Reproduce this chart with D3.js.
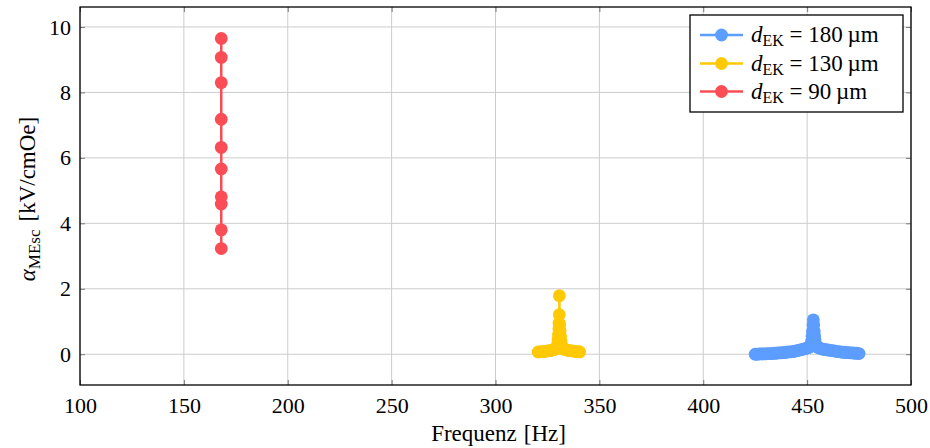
<!DOCTYPE html>
<html><head><meta charset="utf-8">
<script src="https://cdn.jsdelivr.net/npm/d3@7"></script>
<style>body{margin:0;background:#fff}svg{display:block}text{font-family:"Liberation Serif","DejaVu Serif",serif;fill:#000}</style>
</head><body><div id="chart"></div>
<script>
const xTicks=[100,150,200,250,300,350,400,450,500];
const yTicks=[0,2,4,6,8,10];
const seriesNames=["180","130","90"];
const seriesColors=["#5c9dff","#ffc905","#fa4d56"];
// d_EK = 180 µm
const blueFreq=[425,426,427,428,429,430,431,432,433,434,435,436,437,438,439,440,441,442,443,444,445,446,447,448,449,450,450.5,451,451.5,451.8,452,452.2,452.4,452.6,452.8,453,453.2,453.4,453.6,453.8,454,454.2,454.5,455,455.5,456,457,458,459,460,461,462,463,464,465,466,467,468,469,470,471,472,473,474,475];
const blueVal=[0.00,0.00,0.01,0.01,0.01,0.01,0.02,0.02,0.02,0.03,0.03,0.04,0.04,0.05,0.05,0.06,0.07,0.07,0.08,0.09,0.11,0.12,0.14,0.15,0.17,0.19,0.20,0.22,0.24,0.27,0.32,0.42,0.55,0.70,0.90,1.05,0.90,0.70,0.55,0.42,0.32,0.27,0.24,0.22,0.20,0.19,0.16,0.15,0.14,0.13,0.12,0.11,0.10,0.09,0.08,0.07,0.06,0.06,0.05,0.05,0.04,0.04,0.03,0.03,0.02];
// d_EK = 130 µm
const yellowFreq=[320.5,321,322,323,324,325,326,327,328,328.5,329,329.4,329.7,329.9,330.1,330.3,330.5,330.6,330.7,330.75,330.9,331.1,331.3,331.5,331.7,331.9,332.2,332.6,333,334,335,336,337,338,339,340,340.5];
const yellowVal=[0.07,0.07,0.08,0.08,0.09,0.10,0.11,0.12,0.14,0.15,0.17,0.19,0.22,0.32,0.45,0.60,0.78,0.95,1.21,1.79,0.90,0.72,0.55,0.40,0.30,0.23,0.19,0.17,0.15,0.13,0.12,0.11,0.10,0.09,0.08,0.08,0.07];
// d_EK = 90 µm
const redFreq=[168,168,168,168,168,168,168,168,168,168];
const redVal=[3.23,3.80,4.59,4.81,5.66,6.32,7.18,8.30,9.07,9.65];

const W=930,H=448,L=80,R=911,T=7,B=385;
const svg=d3.select("#chart").append("svg").attr("width",W).attr("height",H);
const x=d3.scaleLinear().domain([100,500]).range([L,R]);
const y=d3.scaleLinear().domain([-0.94,10.61]).range([B,T]);

// grid
const g=svg.append("g");
g.selectAll("line.vx").data(xTicks).join("line").attr("x1",d=>x(d)).attr("x2",d=>x(d)).attr("y1",T).attr("y2",B).attr("stroke","#cccccc").attr("stroke-width",1);
g.selectAll("line.hy").data(yTicks).join("line").attr("class","hy").attr("y1",d=>y(d)).attr("y2",d=>y(d)).attr("x1",L).attr("x2",R).attr("stroke","#cccccc").attr("stroke-width",1);

// axes via d3
const ax=svg.append("g").attr("transform",`translate(0,${B})`).call(d3.axisBottom(x).tickValues(xTicks).tickSize(-5).tickPadding(12).tickFormat(d3.format("d")));
const ay=svg.append("g").attr("transform",`translate(${L},0)`).call(d3.axisLeft(y).tickValues(yTicks).tickSize(-5).tickPadding(9).tickFormat(d3.format("d")));
const axT=svg.append("g").attr("transform",`translate(0,${T})`).call(d3.axisTop(x).tickValues(xTicks).tickSize(-5).tickFormat(""));
const ayR=svg.append("g").attr("transform",`translate(${R},0)`).call(d3.axisRight(y).tickValues(yTicks).tickSize(-5).tickFormat(""));
[ax,ay,axT,ayR].forEach(a=>{a.select(".domain").remove();a.selectAll(".tick line").attr("stroke","#7a7a7a");a.selectAll("text").attr("font-size",22).attr("font-family","Liberation Serif").attr("fill","#000");});

// series
const data=[
 {f:blueFreq,v:blueVal,c:seriesColors[0]},
 {f:yellowFreq,v:yellowVal,c:seriesColors[1]},
 {f:redFreq,v:redVal,c:seriesColors[2]}];
const line=d3.line().x(d=>x(d[0])).y(d=>y(d[1]));
data.forEach(s=>{
  const pts=s.f.map((f,i)=>[f,s.v[i]]);
  svg.append("path").attr("d",line(pts)).attr("fill","none").attr("stroke",s.c).attr("stroke-width",2.5);
  svg.append("g").selectAll("circle").data(pts).join("circle").attr("cx",d=>x(d[0])).attr("cy",d=>y(d[1])).attr("r",6.4).attr("fill",s.c);
});

// frame
svg.append("rect").attr("x",L).attr("y",T).attr("width",R-L).attr("height",B-T).attr("fill","none").attr("stroke","#000").attr("stroke-width",1.3);

// axis titles
const xt=svg.append("text").attr("x",(L+R)/2+3).attr("y",441).attr("text-anchor","middle").attr("font-size",23);
xt.append("tspan").text("Frequenz");
xt.append("tspan").attr("dx",7).text("[Hz]");
const yt=svg.append("text").attr("transform",`translate(35,${(T+B)/2+3}) rotate(-90)`).attr("text-anchor","middle").attr("font-size",23);
yt.append("tspan").attr("font-style","italic").text("α");
yt.append("tspan").attr("font-size",17).attr("dy",5).text("MEsc");
yt.append("tspan").attr("dy",-5).attr("dx",8).text("[kV/cmOe]");

// legend
const lg=svg.append("g");
lg.append("rect").attr("x",690).attr("y",15).attr("width",213).attr("height",97).attr("fill","#fff").attr("stroke","#000").attr("stroke-width",1.3);
const rowY=[35,63.5,91.5];
seriesNames.forEach((n,i)=>{
  lg.append("line").attr("x1",700).attr("x2",743).attr("y1",rowY[i]).attr("y2",rowY[i]).attr("stroke",seriesColors[i]).attr("stroke-width",2.5);
  lg.append("circle").attr("cx",721.5).attr("cy",rowY[i]).attr("r",6.4).attr("fill",seriesColors[i]);
  const t=lg.append("text").attr("x",751).attr("y",rowY[i]+7).attr("font-size",23);
  t.append("tspan").attr("font-style","italic").text("d");
  t.append("tspan").attr("font-size",16).attr("dy",4).text("EK");
  t.append("tspan").attr("dy",-4).text(" = "+n+"\u2009µm");
});
</script></body></html>
